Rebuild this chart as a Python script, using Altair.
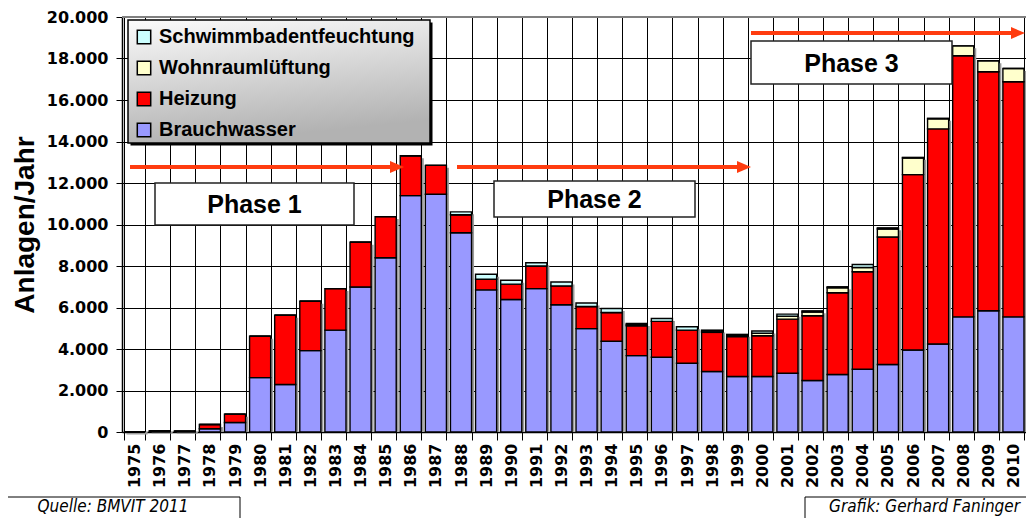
import altair as alt
import pandas as pd

years = list(range(1975, 2011))
brauchwasser = [0, 50, 40, 160, 460, 2620, 2290, 3920, 4910, 6990, 8400, 11390, 11460,
                9600, 6850, 6385, 6910, 6130, 4980, 4370, 3680, 3600, 3310, 2915, 2675,
                2675, 2830, 2480, 2770, 3025, 3250, 3955, 4240, 5550, 5840, 5550]
heizung = [0, 0, 0, 200, 400, 2000, 3340, 2380, 2000, 2160, 1980, 1920, 1390,
           870, 515, 740, 1090, 910, 1070, 1390, 1440, 1730, 1600, 1885, 1920,
           1965, 2610, 3120, 3940, 4700, 6150, 8450, 10370, 12580, 11520, 11330]
wohnraumlueftung = [0] * 20 + [60, 0, 0, 60, 60, 120, 140, 180, 240, 200, 380, 800,
                               480, 480, 530, 640]
schwimmbad = [0] * 13 + [140, 240, 190, 160, 190, 170, 190, 50, 140, 160, 50, 50,
                         110, 100, 60, 50, 150, 60, 30, 30, 0, 0, 0]

series_names = ["Schwimmbadentfeuchtung", "Wohnraumlüftung", "Heizung", "Brauchwasser"]
series_colors = ["#CCFFFF", "#FFFFCC", "#FF0000", "#9999FF"]
stack_order = {"Brauchwasser": 0, "Heizung": 1, "Wohnraumlüftung": 2, "Schwimmbadentfeuchtung": 3}
y_ticks = list(range(0, 20001, 2000))
phase_labels = ["Phase 1", "Phase 2", "Phase 3"]
source_text = "Quelle: BMVIT 2011"
credit_text = "Grafik: Gerhard Faninger"

rows = []
for i, yr in enumerate(years):
    for name, vals in [("Brauchwasser", brauchwasser), ("Heizung", heizung),
                       ("Wohnraumlüftung", wohnraumlueftung),
                       ("Schwimmbadentfeuchtung", schwimmbad)]:
        rows.append({"year": yr, "series": name, "value": vals[i], "order": stack_order[name]})
df = pd.DataFrame(rows)

W, H = 904, 415
BOLD = "Liberation Sans"
NARROW = "Liberation Sans Narrow, DejaVu Sans Condensed, sans-serif"
ARROW = "#FF3C0F"

x_enc = alt.X(
    "year:O",
    scale=alt.Scale(paddingInner=0.16, paddingOuter=0.08),
    axis=alt.Axis(
        title=None, labelAngle=-90, labelAlign="right", labelBaseline="middle",
        labelFont="DejaVu Sans", labelFontWeight="bold", labelFontSize=16,
        labelColor="black", labelPadding=3, labelOverlap=False,
        tickBand="extent", grid=True, gridColor="black", gridWidth=1, gridOpacity=1,
        tickColor="black", tickSize=8, tickWidth=1,
        domainColor="black", domainWidth=1.5,
    ),
)
y_enc = alt.Y(
    "value:Q", stack="zero",
    scale=alt.Scale(domain=[0, 20000], nice=False),
    axis=alt.Axis(
        values=y_ticks,
        labelExpr="replace(format(datum.value, ','), ',', '.')",
        labelFont="DejaVu Sans", labelFontWeight="bold", labelFontSize=16,
        labelColor="black", labelPadding=8,
        tickColor="black", tickSize=6, tickWidth=1,
        grid=True, gridColor="black", gridWidth=1, gridOpacity=1,
        domainColor="black", domainWidth=1.5,
        title="Anlagen/Jahr", titleFont=BOLD, titleFontWeight="bold",
        titleFontSize=28, titleColor="black", titleAngle=270,
        titleAlign="center", titleBaseline="alphabetic",
        titleX=-89, titleY=H / 2,
    ),
)

shadow = alt.Chart(df).mark_bar(color="#9a9a9a", xOffset=2.5, yOffset=2.5).encode(
    x=x_enc, y=alt.Y("sum(value):Q", scale=alt.Scale(domain=[0, 20000], nice=False))
)

bars = alt.Chart(df).mark_bar(stroke="black", strokeWidth=1.4).encode(
    x=x_enc,
    y=y_enc,
    color=alt.Color(
        "series:N",
        scale=alt.Scale(domain=series_names, range=series_colors),
        legend=alt.Legend(
            orient="none", legendX=12, legendY=10, title=None, padding=0,
            symbolType="square", symbolSize=180, symbolStrokeColor="black",
            symbolStrokeWidth=1.5, symbolOpacity=1,
            labelFont=BOLD, labelFontWeight="bold", labelFontSize=20,
            labelColor="black", labelOffset=5, rowPadding=11, labelLimit=0,
        ),
    ),
    order=alt.Order("order:Q"),
)

one = pd.DataFrame({"k": [0]})


def box(x1, x2, y1, y2, **kw):
    return alt.Chart(one).mark_rect(**kw).encode(
        x=alt.value(x1), x2=alt.value(x2), y=alt.value(y1), y2=alt.value(y2))


def hline(x1, x2, y, color, width):
    return alt.Chart(one).mark_rule(color=color, strokeWidth=width).encode(
        x=alt.value(x1), x2=alt.value(x2), y=alt.value(y))


def vline(x, y1, y2, color, width):
    return alt.Chart(one).mark_rule(color=color, strokeWidth=width).encode(
        x=alt.value(x), y=alt.value(y1), y2=alt.value(y2))


def label(txt, x, y, **kw):
    return alt.Chart(pd.DataFrame({"t": [txt]})).mark_text(**kw).encode(
        x=alt.value(x), y=alt.value(y), text="t:N")


def arrow(x1, tip, y):
    line = hline(x1, tip - 8, y, ARROW, 4)
    head = alt.Chart(one).mark_point(
        shape="M-1,-0.85L1,0L-1,0.85Z", size=196, filled=True,
        color=ARROW, opacity=1).encode(x=alt.value(tip - 7), y=alt.value(y))
    return [line, head]


legend_bg = [
    box(8.5, 310.5, 5.5, 128.5, color="black"),
    box(6, 308, 3, 126,
        color=alt.Gradient(gradient="linear",
                           stops=[alt.GradientStop(color="#fbfbfb", offset=0),
                                  alt.GradientStop(color="#b2b2b2", offset=1)],
                           x1=0, x2=0.25, y1=0, y2=1),
        stroke="black", strokeWidth=1.5),
]

phase_boxes = []
for (x1, x2, y1, y2), txt in zip([(33, 232, 166, 208), (372, 573, 164, 200), (629, 830, 24, 67)],
                                 phase_labels):
    phase_boxes.append(box(x1, x2, y1, y2, color="white", stroke="#222222", strokeWidth=1.5))
    phase_boxes.append(label(txt, (x1 + x2) / 2, (y1 + y2) / 2 + 1, font=BOLD,
                             fontWeight="bold", fontSize=25, color="black",
                             align="center", baseline="middle"))

arrows = arrow(8, 282, 150) + arrow(335, 629, 150) + arrow(629, 903, 16)

top_line = [hline(0, W, 0, "#808080", 2)]

footer = [
    hline(-114, 118, 480, "black", 1),
    vline(118, 480, 501, "black", 1),
    hline(683, W, 480, "black", 1),
    vline(683, 480, 501, "black", 1),
    label(source_text, -9, 490, font=NARROW, fontStyle="italic", fontSize=17,
          color="black", align="center", baseline="middle"),
    label(credit_text, 898, 490, font=NARROW, fontStyle="italic", fontSize=17,
          color="black", align="right", baseline="middle"),
]

chart = alt.layer(
    shadow, bars, *legend_bg, *phase_boxes, *arrows, *top_line, *footer
).properties(
    width=W, height=H,
    autosize=alt.AutoSizeParams(type="none"),
    padding={"left": 114, "top": 9, "right": 0, "bottom": 86},
).configure_view(stroke=None)

chart.save("out.html", embed_options={"renderer": "svg", "actions": False})
